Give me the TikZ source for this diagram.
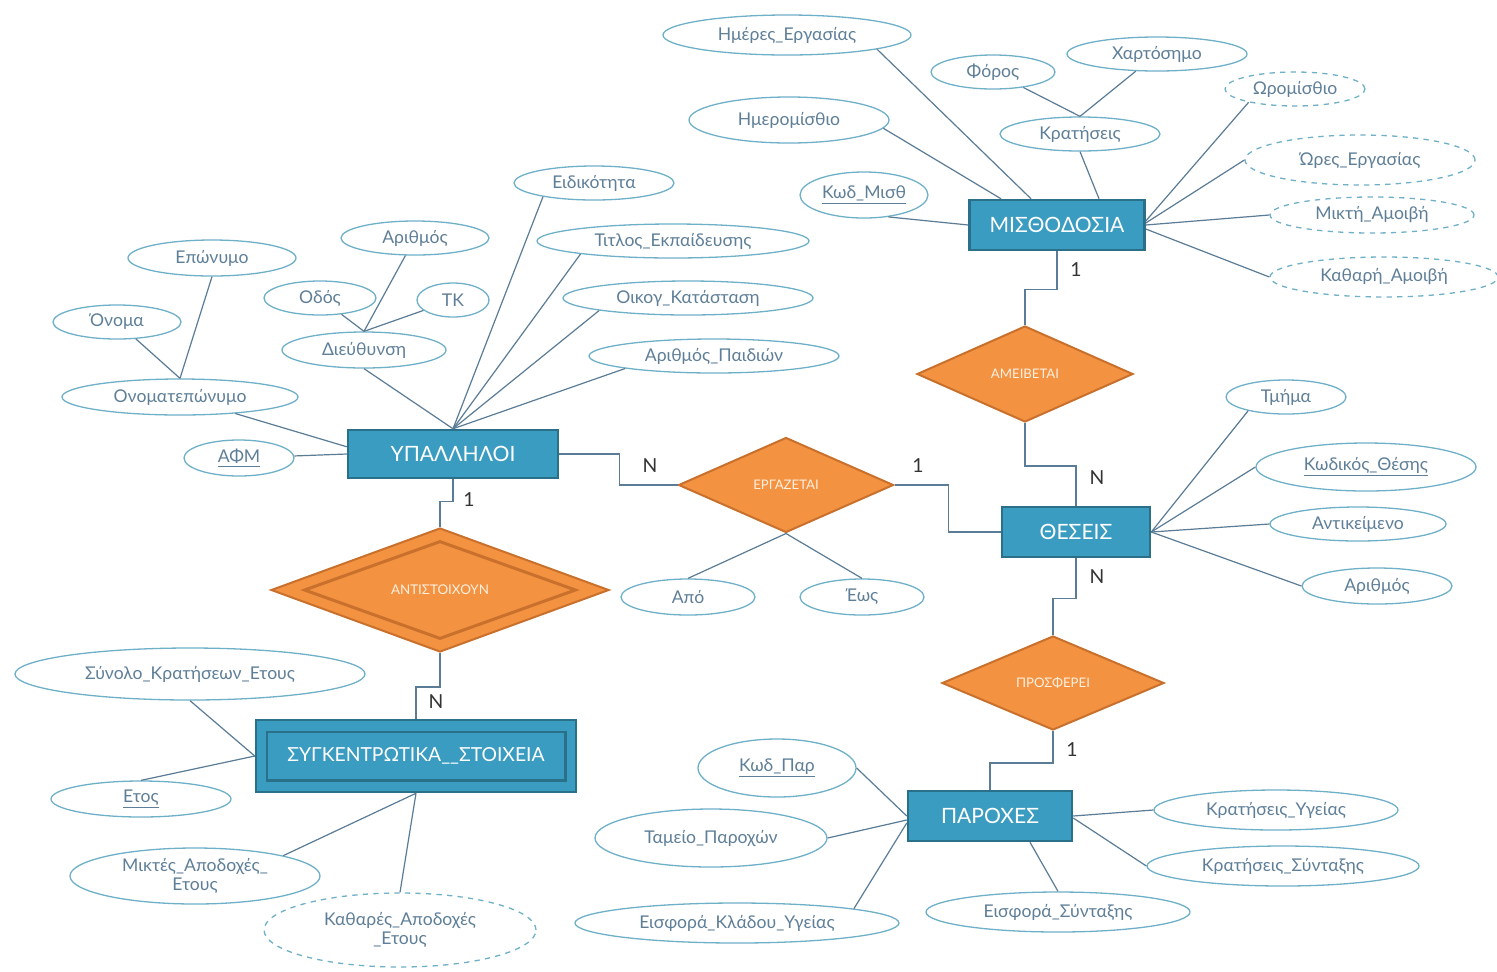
\documentclass[tikz,border=0pt]{standalone}
\usepackage{fontspec}
\setmainfont{Lato}
\usetikzlibrary{shapes.geometric}
\newdimen\pxu \pxu=0.02cm
\definecolor{entfill}{HTML}{3A9CC0}
\definecolor{entdraw}{HTML}{2A7089}
\definecolor{relfill}{HTML}{F39241}
\definecolor{reldraw}{HTML}{C8702C}
\definecolor{attdraw}{HTML}{6FB0C9}
\definecolor{atttext}{HTML}{5F7F98}
\definecolor{linkc}{HTML}{5A7C96}
\tikzset{
  sz/.style 2 args={minimum width=#1\pxu, minimum height=#2\pxu},
  ent/.style={rectangle, draw=entdraw, line width=2.5\pxu, fill=entfill, text=white, font=\fontsize{12}{14}\selectfont, inner sep=0},
  rel/.style={diamond, draw=reldraw, line width=2\pxu, fill=relfill, text=white!88!orange, font=\fontsize{7.5}{8}\selectfont, inner sep=0},
  att/.style={ellipse, draw=attdraw, line width=1.3\pxu, fill=white, text=atttext, font=\fontsize{10}{11}\selectfont, inner sep=0, align=center},
  datt/.style={att, dashed},
  lnk/.style={draw=linkc, line width=1.2\pxu},
  card/.style={font=\fontsize{11}{12}\selectfont, text=black!80, inner sep=0}
}
\begin{document}
\begin{tikzpicture}[x=0.02cm, y=-0.02cm]
\useasboundingbox[fill=white] (0,0) rectangle (1497,971);
% entities
\node[ent, sz={210}{48}] (u) at (453,454) {ΥΠΑΛΛΗΛΟΙ};
\node[ent, sz={175}{50}] (m) at (1057,225) {ΜΙΣΘΟΔΟΣΙΑ};
\node[ent, sz={148}{50}] (th) at (1076,532) {ΘΕΣΕΙΣ};
\node[ent, sz={164}{50}] (pa) at (990,816) {ΠΑΡΟΧΕΣ};
\node[ent, sz={320}{72}, font=\fontsize{11}{13}\selectfont] (sy) at (416,756) {ΣΥΓΚΕΝΤΡΩΤΙΚΑ\_\_ΣΤΟΙΧΕΙΑ};
\draw[entdraw, line width=2.5\pxu] ([shift={(12,13)}]sy.north west) rectangle ([shift={(-12,-13)}]sy.south east);
% relationships
\node[rel, sz={215}{95}] (er) at (786,485) {ΕΡΓΑΖΕΤΑΙ};
\node[rel, sz={216}{96}] (am) at (1025,374) {ΑΜΕΙΒΕΤΑΙ};
\node[rel, sz={222}{94}] (pr) at (1053,683) {ΠΡΟΣΦΕΡΕΙ};
\node[rel, sz={338}{124}, font=\fontsize{7.6}{8}\selectfont] (an) at (440,590) {ΑΝΤΙΣΤΟΙΧΟΥΝ};
\node[diamond, draw=reldraw, line width=3\pxu, sz={272}{98}, inner sep=0] (ani) at (440,590) {};
% attributes of ΥΠΑΛΛΗΛΟΙ
\node[att, sz={168}{36}] (epon) at (212,258) {Επώνυμο};
\node[att, sz={128}{34}] (onoma) at (117,322) {Όνομα};
\node[att, sz={236}{36}] (onp) at (180,397) {Ονοματεπώνυμο};
\node[att, sz={110}{36}] (afm) at (239,458) {\underline{ΑΦΜ}};
\node[att, sz={112}{34}] (odos) at (320,298) {Οδός};
\node[att, sz={148}{34}] (arith) at (415,238) {Αριθμός};
\node[att, sz={72}{34}] (tk) at (453,300) {ΤΚ};
\node[att, sz={164}{36}] (diey) at (364,350) {Διεύθυνση};
\node[att, sz={160}{34}] (eid) at (594,183) {Ειδικότητα};
\node[att, sz={272}{34}] (titl) at (673,241) {Τιτλος\_Εκπαίδευσης};
\node[att, sz={250}{34}] (oik) at (688,298) {Οικογ\_Κατάσταση};
\node[att, sz={250}{34}] (paid) at (714,356) {Αριθμός\_Παιδιών};
% attributes of ΜΙΣΘΟΔΟΣΙΑ
\node[att, sz={248}{40}] (hmer) at (787,35) {Ημέρες\_Εργασίας};
\node[att, sz={200}{46}] (hmis) at (789,120) {Ημερομίσθιο};
\node[att, sz={128}{46}] (kmis) at (864,195) {\underline{Κωδ\_Μισθ}};
\node[att, sz={124}{34}] (foros) at (993,72) {Φόρος};
\node[att, sz={180}{34}] (xart) at (1157,54) {Χαρτόσημο};
\node[att, sz={160}{34}] (krat) at (1080,134) {Κρατήσεις};
\node[datt, sz={140}{34}] (wrom) at (1295,89) {Ωρομίσθιο};
\node[datt, sz={230}{50}] (wres) at (1360,160) {Ώρες\_Εργασίας};
\node[datt, sz={204}{36}] (mikt) at (1372,215) {Μικτή\_Αμοιβή};
\node[datt, sz={228}{40}] (kath) at (1384,277) {Καθαρή\_Αμοιβή};
% attributes of ΘΕΣΕΙΣ
\node[att, sz={120}{34}] (tmhma) at (1286,397) {Τμήμα};
\node[att, sz={220}{48}] (kwdth) at (1366,467) {\underline{Κωδικός\_Θέσης}};
\node[att, sz={176}{34}] (antik) at (1358,524) {Αντικείμενο};
\node[att, sz={150}{36}] (arth) at (1377,586) {Αριθμός};
% attributes of ΕΡΓΑΖΕΤΑΙ
\node[att, sz={134}{36}] (apo) at (688,597) {Από};
\node[att, sz={124}{36}] (ews) at (862,597) {Έως};
% attributes of ΣΥΓΚΕΝΤΡΩΤΙΚΑ
\node[att, sz={350}{52}] (synolo) at (190,674) {Σύνολο\_Κρατήσεων\_Ετους};
\node[att, sz={180}{36}] (etos) at (141,799) {\underline{Ετος}};
\node[att, sz={250}{56}] (miktes) at (195,876) {Μικτές\_Αποδοχές\_\\Ετους};
\node[datt, sz={272}{74}] (kathar) at (400,930) {Καθαρές\_Αποδοχές\\\_Ετους};
% attributes of ΠΑΡΟΧΕΣ
\node[att, sz={158}{58}] (kpar) at (777,768) {\underline{Κωδ\_Παρ}};
\node[att, sz={232}{58}] (tam) at (711,838) {Ταμείο\_Παροχών};
\node[att, sz={324}{40}] (eisk) at (737,923) {Εισφορά\_Κλάδου\_Υγείας};
\node[att, sz={244}{40}] (kryg) at (1276,810) {Κρατήσεις\_Υγείας};
\node[att, sz={272}{40}] (krsy) at (1283,866) {Κρατήσεις\_Σύνταξης};
\node[att, sz={264}{40}] (eiss) at (1058,912) {Εισφορά\_Σύνταξης};
% attribute links
\draw[lnk] (onoma) -- (onp.north);
\draw[lnk] (epon.south) -- (onp.north);
\draw[lnk] (onp) -- ([shift={(0,18)}]u.north west);
\draw[lnk] (afm) -- (u.west);
\draw[lnk] (odos) -- (diey.north);
\draw[lnk] (arith) -- (diey.north);
\draw[lnk] (tk) -- (diey.north);
\draw[lnk] (diey.south) -- (u.north);
\draw[lnk] (eid.195) -- (u.north);
\draw[lnk] (titl.188) -- (u.north);
\draw[lnk] (oik.188) -- (u.north);
\draw[lnk] (paid.188) -- (u.north);
\draw[lnk] (hmer.351) -- ([shift={(-26,0)}]m.north);
\draw[lnk] (hmis.355) -- ([shift={(-56,0)}]m.north);
\draw[lnk] (kmis.318) -- (m.west);
\draw[lnk] (foros) -- (krat.north);
\draw[lnk] (xart) -- (krat.north);
\draw[lnk] (krat.south) -- ([shift={(42,0)}]m.north);
\draw[lnk] (wrom.196) -- ([shift={(0,-4)}]m.east);
\draw[lnk] (wres.west) -- ([shift={(0,-2)}]m.east);
\draw[lnk] (mikt.west) -- (m.east);
\draw[lnk] (kath.west) -- ([shift={(0,4)}]m.east);
\draw[lnk] (tmhma.200) -- (th.east);
\draw[lnk] (kwdth.west) -- (th.east);
\draw[lnk] (antik.west) -- (th.east);
\draw[lnk] (arth.west) -- (th.east);
\draw[lnk] (apo.north) -- (er.south);
\draw[lnk] (ews.north) -- (er.south);
\draw[lnk] (synolo.south) -- (sy.west);
\draw[lnk] (etos.north) -- (sy.west);
\draw[lnk] (miktes.13) -- (sy.south);
\draw[lnk] (kathar.north) -- (sy.south);
\draw[lnk] (kpar.east) -- (pa.west);
\draw[lnk] (tam.east) -- ([shift={(0,4)}]pa.west);
\draw[lnk] (eisk.7) -- ([shift={(0,7)}]pa.west);
\draw[lnk] (kryg.west) -- (pa.east);
\draw[lnk] (krsy.west) -- ([shift={(0,2)}]pa.east);
\draw[lnk] (eiss.north) -- ([shift={(40,0)}]pa.south);
% relationship links
\draw[lnk] (u.east) -- ++(60,0) |- (er.west);
\draw[lnk] (er.east) -- ++(54,0) |- (th.west);
\draw[lnk] (m.south) -- ++(0,38) -| (am.north);
\draw[lnk] (am.south) -- ++(0,43) -| (th.north);
\draw[lnk] (th.south) -- ++(0,40) -| (pr.north);
\draw[lnk] (pr.south) -- ++(0,32) -| (pa.north);
\draw[lnk] (u.south) -- ++(0,22) -| (an.north);
\draw[lnk] (an.south) -- ++(0,34) -| (sy.north);
% cardinalities
\node[card] (c1) at (650,466) {N};
\node[card] (c2) at (918,466) {1};
\node[card] (c3) at (1076,270) {1};
\node[card] (c4) at (1097,478) {N};
\node[card] (c5) at (1097,577) {N};
\node[card] (c6) at (1072,750) {1};
\node[card] (c7) at (469,500) {1};
\node[card] (c8) at (436,702) {N};
\end{tikzpicture}
\end{document}
